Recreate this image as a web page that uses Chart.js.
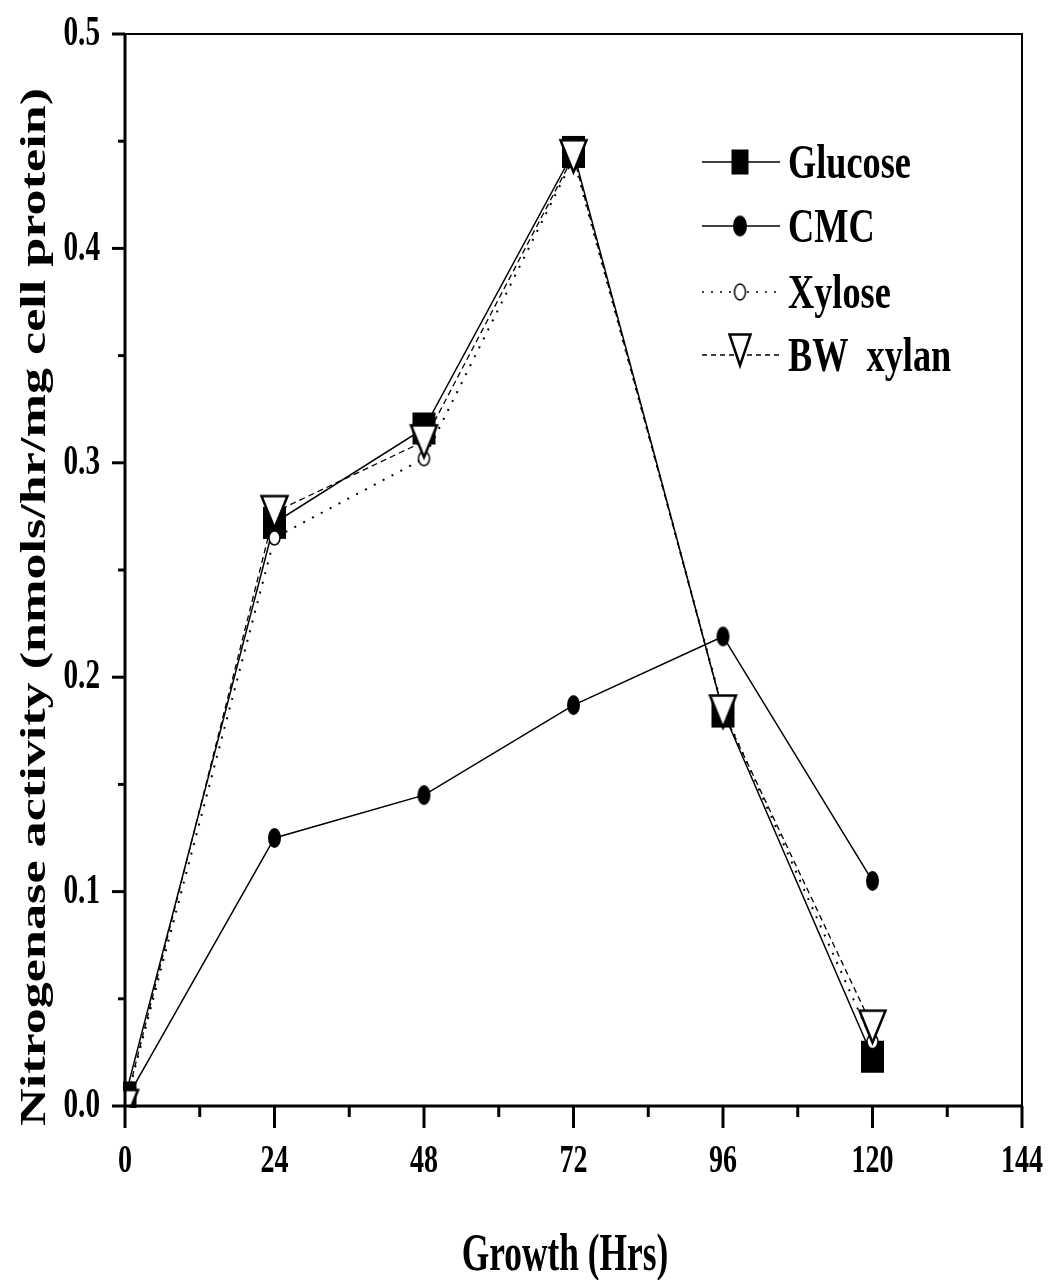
<!DOCTYPE html>
<html>
<head>
<meta charset="utf-8">
<script src="https://cdn.jsdelivr.net/npm/chart.js@4"></script>
<style>
    body { margin: 0; background: #fff; }
    #wrap { width: 1051px; height: 1280px; }
</style>
</head>
<body>
<div id="wrap"><canvas id="grafico"></canvas></div>
<script>
const hours = [0, 24, 48, 72, 96, 120];
const glucose = [0.004, 0.272, 0.316, 0.445, 0.184, 0.023];
const cmc = [0.002, 0.125, 0.145, 0.187, 0.219, 0.105];
const xylose = [0.0, 0.265, 0.302, 0.442, 0.185, 0.030];
const bwXylan = [0.0, 0.277, 0.310, 0.443, 0.184, 0.037];

const xTicks = [0, 24, 48, 72, 96, 120, 144];
const yTicks = [0.0, 0.1, 0.2, 0.3, 0.4, 0.5];
const seriesNames = ['Glucose', 'CMC', 'Xylose', 'BW  xylan'];

const FONT = '"Liberation Serif", "Times New Roman", serif';

// marker pictures, drawn once on small canvases
function makeMarker(type, w, h) {
    const c = document.createElement('canvas');
    c.width = w + 4;
    c.height = h + 4;
    const g = c.getContext('2d');
    const cx = c.width / 2, cy = c.height / 2;
    g.fillStyle = '#000';
    g.strokeStyle = '#000';
    if (type === 'square') {
        g.fillRect(cx - w / 2, cy - h / 2, w, h);
    } else if (type === 'dot') {
        g.beginPath();
        g.ellipse(cx, cy, w / 2, h / 2, 0, 0, Math.PI * 2);
        g.fill();
    } else if (type === 'ring') {
        g.lineWidth = 1.5;
        g.fillStyle = '#fff';
        g.beginPath();
        g.ellipse(cx, cy, w / 2 - 1, h / 2 - 1, 0, 0, Math.PI * 2);
        g.fill();
        g.stroke();
    } else if (type === 'tri') {
        g.lineWidth = 2.5;
        g.lineJoin = 'miter';
        g.fillStyle = '#fff';
        g.beginPath();
        g.moveTo(cx - w / 2 + 1.5, cy - h / 2 + 1.5);
        g.lineTo(cx + w / 2 - 1.5, cy - h / 2 + 1.5);
        g.lineTo(cx, cy + h / 2 - 1.5);
        g.closePath();
        g.fill();
        g.stroke();
    }
    return c;
}

const markers = {
    square: makeMarker('square', 23, 32),
    dot: makeMarker('dot', 13, 20),
    ring: makeMarker('ring', 13, 16),
    tri: makeMarker('tri', 29, 35)
};
const legendMarkers = {
    square: makeMarker('square', 17, 25),
    dot: makeMarker('dot', 14, 21),
    ring: makeMarker('ring', 13, 18),
    tri: makeMarker('tri', 24, 34)
};

function pts(ys) {
    return hours.map(function(h, i) { return { x: h, y: ys[i] }; });
}

// condensed text, the original figure is stretched vertically
function drawText(ctx, text, x, y, size, sx, sy, rot, align, base) {
    ctx.save();
    ctx.translate(x, y);
    if (rot) ctx.rotate(rot);
    ctx.scale(sx, sy);
    ctx.font = 'bold ' + size + 'px ' + FONT;
    ctx.fillStyle = '#000';
    ctx.textAlign = align || 'center';
    ctx.textBaseline = base || 'middle';
    ctx.fillText(text, 0, 0);
    ctx.restore();
}

const frame = {
    id: 'frame',
    afterDraw: function(chart) {
        const ctx = chart.ctx;
        const a = chart.chartArea;
        const xs = chart.scales.x;
        const ys = chart.scales.y;
        ctx.save();
        ctx.strokeStyle = '#000';

        // box
        ctx.lineWidth = 2;
        ctx.beginPath();
        ctx.moveTo(a.left - 12, a.top);
        ctx.lineTo(a.right + 1, a.top);
        ctx.moveTo(a.right, a.top);
        ctx.lineTo(a.right, a.bottom);
        ctx.stroke();
        ctx.lineWidth = 3;
        ctx.beginPath();
        ctx.moveTo(a.left, a.top - 1);
        ctx.lineTo(a.left, a.bottom + 1);
        ctx.moveTo(a.left - 1, a.bottom);
        ctx.lineTo(a.right + 1, a.bottom);
        ctx.stroke();

        // x ticks, major and minor
        ctx.lineWidth = 3;
        for (let v = 0; v <= 144; v += 12) {
            const px = xs.getPixelForValue(v);
            const len = (v % 24 === 0) ? 22 : 11;
            ctx.beginPath();
            ctx.moveTo(px, a.bottom);
            ctx.lineTo(px, a.bottom + len);
            ctx.stroke();
        }
        // y ticks
        for (let k = 0; k <= 10; k++) {
            const py = ys.getPixelForValue(k * 0.05);
            const len = (k % 2 === 0) ? 13 : 7;
            ctx.beginPath();
            ctx.moveTo(a.left, py);
            ctx.lineTo(a.left - len, py);
            ctx.stroke();
        }

        xTicks.forEach(function(v) {
            drawText(ctx, String(v), xs.getPixelForValue(v), a.bottom + 56, 40, 0.7, 1, 0, 'center', 'middle');
        });
        yTicks.forEach(function(v) {
            drawText(ctx, v.toFixed(1), 100, ys.getPixelForValue(v), 43, 0.68, 1, 0, 'right', 'middle');
        });

        // axis titles
        drawText(ctx, 'Growth (Hrs)', 565, 1270, 52, 0.68, 1, 0, 'center', 'alphabetic');
        drawText(ctx, 'Nitrogenase activity (nmols/hr/mg cell protein)', 45, 607, 35, 1.49, 1, -Math.PI / 2, 'center', 'alphabetic');

        // legend
        const rows = [
            { y: 162, m: legendMarkers.square, dash: [] },
            { y: 226, m: legendMarkers.dot, dash: [] },
            { y: 292, m: legendMarkers.ring, dash: [2, 7] },
            { y: 355, m: legendMarkers.tri, dash: [5, 4] }
        ];
        rows.forEach(function(r, i) {
            ctx.lineWidth = 1.5;
            ctx.setLineDash(r.dash);
            ctx.beginPath();
            ctx.moveTo(702, r.y);
            ctx.lineTo(780, r.y);
            ctx.stroke();
            ctx.setLineDash([]);
            const my = (i === 3) ? r.y - 5 : r.y;
            ctx.drawImage(r.m, 740 - r.m.width / 2, my - r.m.height / 2);
            drawText(ctx, seriesNames[i], 788, r.y + 16, 49, 0.74, 1, 0, 'left', 'alphabetic');
        });
        ctx.restore();
    }
};

new Chart(document.getElementById('grafico'), {
    type: 'line',
    data: {
        datasets: [
            { label: seriesNames[0], data: pts(glucose), borderColor: '#000', borderWidth: 1.5,
              pointStyle: markers.square, pointRadius: 6, order: 3 },
            { label: seriesNames[1], data: pts(cmc), borderColor: '#000', borderWidth: 1.5,
              pointStyle: markers.dot, pointRadius: 6, order: 2 },
            { label: seriesNames[2], data: pts(xylose), borderColor: '#000', borderWidth: 2,
              borderDash: [2, 8], pointStyle: markers.ring, pointRadius: 6, order: 1 },
            { label: seriesNames[3], data: pts(bwXylan), borderColor: '#000', borderWidth: 1.3,
              borderDash: [6, 4], pointStyle: markers.tri, pointRadius: 6, order: 0 }
        ]
    },
    options: {
        responsive: true,
        maintainAspectRatio: false,
        animation: false,
        layout: { padding: { left: 125, right: 29, top: 34, bottom: 174 } },
        elements: { line: { tension: 0, fill: false }, point: { hoverRadius: 6 } },
        datasets: { line: { clip: 2 } },
        scales: {
            x: { type: 'linear', min: 0, max: 144, display: false },
            y: { type: 'linear', min: 0, max: 0.5, display: false }
        },
        plugins: {
            legend: { display: false },
            tooltip: { enabled: false }
        }
    },
    plugins: [frame]
});
</script>
</body>
</html>
